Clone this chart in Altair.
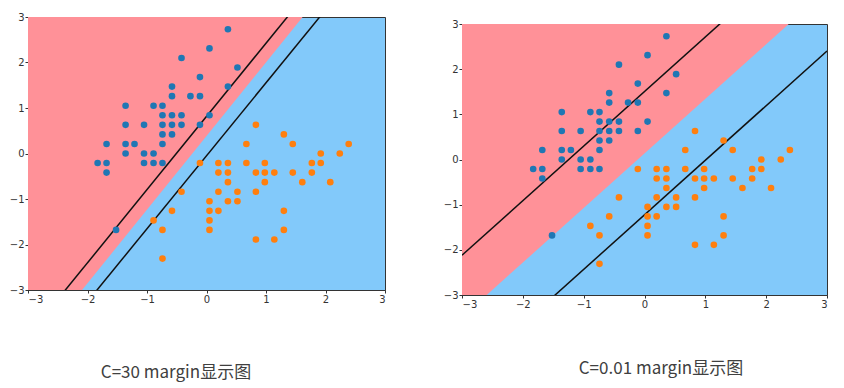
import altair as alt
import pandas as pd

# ---- data (standardized sepal length / width) ----
class0_x = [-0.58, -0.89, -1.21, -1.36, -0.74, -0.11, -1.36, -0.74, -1.68, -0.89,
            -0.11, -1.05, -1.05, -1.83, 0.52, 0.36, 0.36, -0.58, -0.11, -0.58,
            -1.36, -0.58, -0.74, -0.42, -0.42, -1.05, -0.42, 0.05, -0.74, 0.05,
            -0.89, -1.68, -0.58, -0.74, -1.52, -1.68, -1.36, -0.27, -0.74]
class0_y = [0.84, -0.21, 0.21, 0.00, 1.05, 1.68, 0.63, 0.63, -0.42, 0.00,
            1.26, 0.63, -0.21, -0.21, 1.89, 2.73, 1.47, 1.47, 0.63, 1.26,
            1.05, 0.42, -0.21, 0.84, 0.63, 0.00, 2.10, 2.31, 0.21, 0.84,
            1.05, -0.21, 0.63, 0.84, -1.68, 0.21, 0.21, 1.26, 0.42]

class1_x = [2.39, 1.45, 2.24, 0.05, 1.61, 0.36, 1.30, -0.89, 1.77, -0.42,
            -0.74, 0.67, 0.83, 0.98, 0.20, 1.92, 0.20, 0.52, 1.14, 0.20,
            0.67, 0.98, 1.30, 1.45, 1.77, 2.08, 1.92, 0.83, 0.36, 0.05,
            0.83, -0.11, 0.83, 1.30, 0.05, 0.05, 0.98, 0.52, -0.74, 0.20,
            0.36, 0.36, 1.14, -0.58]
class1_y = [0.21, 0.21, 0.00, -1.68, -0.63, -0.63, 0.42, -1.47, -0.42, -0.84,
            -2.31, -0.21, -1.89, -0.42, -0.42, 0.00, -0.21, -0.84, -1.89, -1.26,
            0.21, -0.63, -1.26, -0.42, -0.21, -0.63, -0.21, -0.42, -1.05, -1.47,
            -0.84, -0.21, 0.63, -1.68, -1.26, -1.05, -0.21, -1.05, -1.68, -0.84,
            -0.21, -0.42, -0.42, -1.26]

# lines given by their y values at x = -3 and x = 3
line_x = [-3, 3]
# C = 30
c30_boundary = [-4.47, 5.24]
c30_margin_up = [-4.01, 5.64]
c30_margin_down = [-4.86, 4.76]
# C = 0.01
c001_boundary = [-3.49, 3.76]
c001_margin_up = [-2.12, 5.13]
c001_margin_down = [-4.85, 2.40]

captions = ["C=30 margin显示图", "C=0.01 margin显示图"]
ticks = [-3, -2, -1, 0, 1, 2, 3]

PINK = "#FF9198"
LBLUE = "#82C9FA"
DOT_BLUE = "#1f77b4"
DOT_ORANGE = "#ff7f0e"

points = pd.DataFrame({
    "x": class0_x + class1_x,
    "y": class0_y + class1_y,
    "cls": [0] * len(class0_x) + [1] * len(class1_x),
})


def panel(boundary, m_up, m_down, caption, w, h, cap_x, cap_y):
    xs = alt.Scale(domain=[-3, 3], nice=False, zero=False)
    ys = alt.Scale(domain=[-3, 3], nice=False, zero=False)
    xax = alt.Axis(values=ticks, title=None, format="d")
    yax = alt.Axis(values=ticks, title=None, format="d")

    pink = alt.Chart(pd.DataFrame({"x": line_x, "y": boundary, "top": [3, 3]})).mark_area(
        clip=True, color=PINK, opacity=1
    ).encode(
        x=alt.X("x:Q", scale=xs, axis=xax),
        y=alt.Y("y:Q", scale=ys, axis=yax),
        y2="top:Q",
    )

    lines_df = pd.DataFrame({
        "x": line_x + line_x,
        "y": m_up + m_down,
        "g": ["up", "up", "down", "down"],
    })
    lines = alt.Chart(lines_df).mark_line(clip=True, color="#111111", strokeWidth=1.5).encode(
        x=alt.X("x:Q", scale=xs), y=alt.Y("y:Q", scale=ys), detail="g:N"
    )

    dots = alt.Chart(points).mark_circle(size=44, opacity=1).encode(
        x=alt.X("x:Q", scale=xs),
        y=alt.Y("y:Q", scale=ys),
        color=alt.Color("cls:N", scale=alt.Scale(domain=[0, 1], range=[DOT_BLUE, DOT_ORANGE]), legend=None),
    )

    cap = alt.Chart(pd.DataFrame({"t": [caption]})).mark_text(
        font="Noto Sans CJK SC", fontSize=17, color="#404040", align="center", baseline="middle"
    ).encode(text="t:N", x=alt.value(cap_x), y=alt.value(cap_y))

    return alt.layer(pink, lines, dots, cap).properties(
        width=w, height=h,
        view=alt.ViewBackground(fill=LBLUE, stroke="#333333", strokeWidth=1),
    )


p1 = panel(c30_boundary, c30_margin_up, c30_margin_down, captions[0], 357, 273, 148, 356)
p2 = panel(c001_boundary, c001_margin_up, c001_margin_down, captions[1], 365, 271, 199, 345)

spacer = alt.Chart(pd.DataFrame({"a": [0]})).mark_rect(opacity=0).encode(
    x=alt.value(0), x2=alt.value(1), y=alt.value(0), y2=alt.value(1)
).properties(width=1, height=1, view=alt.ViewBackground(stroke=None, fill=None))

right = alt.vconcat(spacer, p2, spacing=0)

chart = alt.hconcat(p1, right, spacing=56).properties(
    padding={"left": 0, "top": 3, "right": 0, "bottom": 0}
).configure_axis(
    domainColor="#333333", tickColor="#333333", labelColor="#333333",
    labelFont="DejaVu Sans", labelFontSize=10, tickSize=3, labelPadding=1,
    grid=False, domainWidth=1,
).configure_view(stroke=None)

chart.save("out.html", embed_options={"renderer": "svg", "actions": False})
